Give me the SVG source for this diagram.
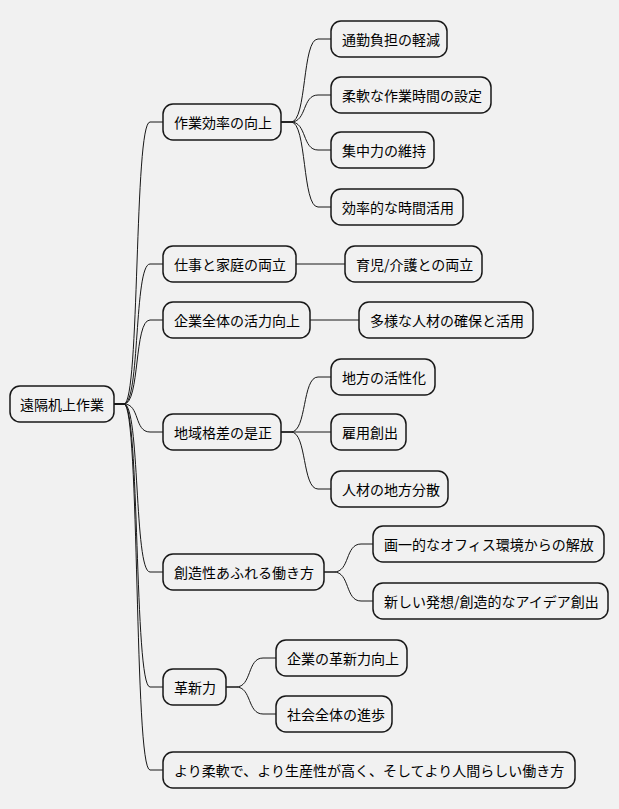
<svg xmlns="http://www.w3.org/2000/svg" width="619" height="809" viewBox="0 0 619 809">
<style>
rect{fill:#F1F1F1;stroke:#181818;stroke-width:1.5}
text{font-family:"Noto Sans CJK JP","Noto Sans",sans-serif;font-size:14px;fill:#000;dominant-baseline:central}
#c path{fill:none;stroke:#181818;stroke-width:1}
</style>
<rect width="619" height="809" fill="#fff" style="stroke:none"/>
<g id="c">
<path d="M114 404H124C140 404,134 122,150 122H163"/>
<path d="M114 404H124C140 404,134 264,150 264H163"/>
<path d="M114 404H124C140 404,134 320,150 320H163"/>
<path d="M114 404H124C140 404,134 432,150 432H163"/>
<path d="M114 404H124C140 404,134 572,150 572H163"/>
<path d="M114 404H124C140 404,134 687,150 687H163"/>
<path d="M114 404H124C140 404,134 770,150 770H163"/>
<path d="M281 122H291C307 122,302 39,318 39H331"/>
<path d="M281 122H291C307 122,302 95,318 95H331"/>
<path d="M281 122H291C307 122,302 150,318 150H331"/>
<path d="M281 122H291C307 122,302 207,318 207H331"/>
<path d="M296 264H345"/>
<path d="M310 320H359"/>
<path d="M281 432H291C307 432,302 377,318 377H331"/>
<path d="M281 432H331"/>
<path d="M281 432H291C307 432,302 489,318 489H331"/>
<path d="M324 572H334C350 572,345 544,361 544H373"/>
<path d="M324 572H334C350 572,345 601,361 601H373"/>
<path d="M226 687H236C252 687,247 658,263 658H276"/>
<path d="M226 687H236C252 687,247 714,263 714H276"/>
</g>
<g id="root"><rect x="10" y="386" width="104" height="36" rx="10"/><text x="20" y="404">遠隔机上作業</text></g>
<g id="n1"><rect x="163" y="104" width="118" height="36" rx="10"/><text x="174" y="122">作業効率の向上</text></g>
<g id="n2"><rect x="163" y="246" width="133" height="36" rx="10"/><text x="174" y="264">仕事と家庭の両立</text></g>
<g id="n3"><rect x="163" y="302" width="147" height="36" rx="10"/><text x="174" y="320">企業全体の活力向上</text></g>
<g id="n4"><rect x="163" y="414" width="118" height="36" rx="10"/><text x="174" y="432">地域格差の是正</text></g>
<g id="n5"><rect x="163" y="554" width="161" height="36" rx="10"/><text x="174" y="572">創造性あふれる働き方</text></g>
<g id="n6"><rect x="163" y="669" width="63" height="36" rx="10"/><text x="174" y="687">革新力</text></g>
<g id="n7"><rect x="163" y="752" width="412" height="36" rx="10"/><text x="174" y="770">より柔軟で、より生産性が高く、そしてより人間らしい働き方</text></g>
<g id="n1a"><rect x="331" y="21" width="116" height="36" rx="10"/><text x="342" y="39">通勤負担の軽減</text></g>
<g id="n1b"><rect x="331" y="77" width="160" height="36" rx="10"/><text x="342" y="95">柔軟な作業時間の設定</text></g>
<g id="n1c"><rect x="331" y="132" width="103" height="36" rx="10"/><text x="342" y="150">集中力の維持</text></g>
<g id="n1d"><rect x="331" y="189" width="132" height="36" rx="10"/><text x="342" y="207">効率的な時間活用</text></g>
<g id="n2a"><rect x="345" y="246" width="137" height="36" rx="10"/><text x="356" y="264">育児/介護との両立</text></g>
<g id="n3a"><rect x="359" y="302" width="174" height="36" rx="10"/><text x="370" y="320">多様な人材の確保と活用</text></g>
<g id="n4a"><rect x="331" y="359" width="104" height="36" rx="10"/><text x="342" y="377">地方の活性化</text></g>
<g id="n4b"><rect x="331" y="414" width="75" height="36" rx="10"/><text x="342" y="432">雇用創出</text></g>
<g id="n4c"><rect x="331" y="471" width="117" height="36" rx="10"/><text x="342" y="489">人材の地方分散</text></g>
<g id="n5a"><rect x="373" y="526" width="231" height="36" rx="10"/><text x="384" y="544">画一的なオフィス環境からの解放</text></g>
<g id="n5b"><rect x="373" y="583" width="235" height="36" rx="10"/><text x="384" y="601">新しい発想/創造的なアイデア創出</text></g>
<g id="n6a"><rect x="276" y="640" width="131" height="36" rx="10"/><text x="287" y="658">企業の革新力向上</text></g>
<g id="n6b"><rect x="276" y="696" width="116" height="36" rx="10"/><text x="287" y="714">社会全体の進歩</text></g>
</svg>
